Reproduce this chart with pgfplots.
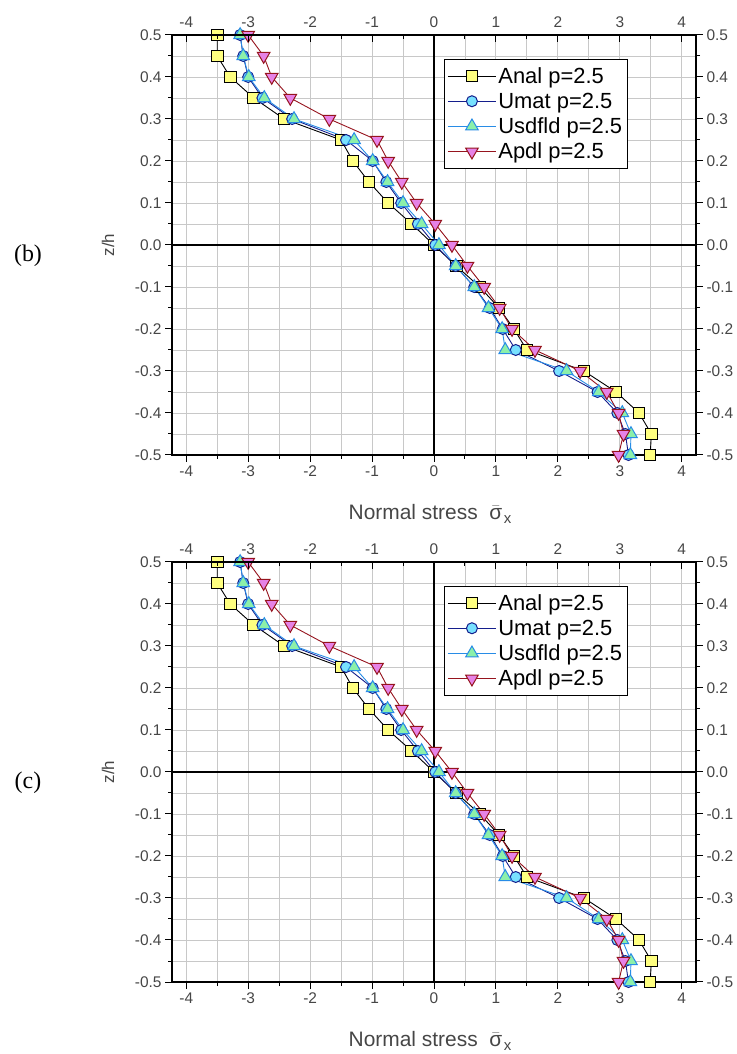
\documentclass[border=0pt]{standalone}
\usepackage{fontspec}
\setmainfont{Liberation Sans}
\newfontfamily\seriffont{Liberation Serif}
\usepackage{pgfplots}
\pgfplotsset{compat=1.18}
\usepackage{pgfplotstable}

\definecolor{analfill}{RGB}{255,255,128}
\definecolor{umatline}{RGB}{20,30,140}
\definecolor{umatfill}{RGB}{120,225,255}
\definecolor{usdline}{RGB}{40,140,230}
\definecolor{usdfill}{RGB}{140,240,170}
\definecolor{apdlline}{RGB}{150,20,30}
\definecolor{apdlfill}{RGB}{230,130,230}
\definecolor{gridgray}{RGB}{200,200,200}
\definecolor{ticklab}{RGB}{70,70,70}

\pgfplotstableread{
z     anal   umat   usd    apdl
0.50  -3.50  -3.13  -3.13  -3.00
0.45  -3.50  -3.08  -3.08  -2.75
0.40  -3.29  -3.00  -2.99  -2.62
0.35  -2.91  -2.77  -2.74  -2.32
0.30  -2.42  -2.29  -2.26  -1.69
0.25  -1.50  -1.42  -1.29  -0.92
0.20  -1.31  -0.99  -0.99  -0.74
0.15  -1.05  -0.77  -0.75  -0.52
0.10  -0.74  -0.53  -0.50  -0.28
0.05  -0.36  -0.26  -0.20   0.02
0.00   0.00   0.02   0.08   0.29
-0.05  0.36   0.35   0.35   0.54
-0.10  0.74   0.65   0.65   0.81
-0.15  1.05   0.90   0.88   1.06
-0.20  1.29   1.11   1.10   1.26
-0.25  1.50   1.32   1.15   1.63
-0.30  2.42   2.02   2.14   2.36
-0.35  2.94   2.64   2.66   2.79
-0.40  3.31   2.96   3.04   2.98
-0.45  3.51   3.09   3.18   3.06
-0.50  3.49   3.14   3.17   2.98
}\datab

\pgfplotsset{
  base/.style={
    width=524bp, height=420bp, scale only axis,
    xmin=-4.23, xmax=4.23, ymin=-0.5, ymax=0.5,
    xtick={-4,-3,-2,-1,0,1,2,3,4},
    xticklabels={-4,-3,-2,-1,0,1,2,3,4},
    ytick={-0.5,-0.4,-0.3,-0.2,-0.1,0,0.1,0.2,0.3,0.4,0.5},
    yticklabels={-0.5,-0.4,-0.3,-0.2,-0.1,0.0,0.1,0.2,0.3,0.4,0.5},
    minor x tick num=1, minor y tick num=1,
    major tick length=7bp, minor tick length=4bp,
    every tick/.style={black, line width=1bp},
    ticklabel style={font=\fontsize{15.5}{16}\selectfont, text=ticklab},
    axis line style={black, line width=1.4bp},
  },
  mainpanel/.style={base,
    grid=both,
    major grid style={gridgray, line width=0.9bp},
    minor grid style={gridgray, line width=0.9bp},
    xtick pos=left, ytick pos=left, tick align=outside,
    legend style={at={(0.519,0.943)}, anchor=north west, draw=black, line width=1.1bp,
      fill=white, font=\fontsize{22}{24}\selectfont, inner xsep=3bp, inner ysep=6bp,
      row sep=4bp},
    legend cell align=left,
    legend image code/.code={\draw[mark repeat=2,mark phase=2,##1] plot coordinates {(0bp,0bp) (24bp,0bp) (48bp,0bp)};},
  },
  toppanel/.style={base, axis x line*=top, axis y line=none, tick align=inside,
    xticklabel style={yshift=4bp}},
  rightpanel/.style={base, axis y line*=right, axis x line=none, tick align=outside},
}

\newcommand{\sigmalabel}{Normal stress\ \ \smash{$\bar{\hbox{σ}}$\kern1.5bp\raisebox{-4bp}{\fontsize{15}{16}\selectfont x}}}

\newcommand{\panel}[1]{%
\begin{axis}[mainpanel, at={(172bp,#1)}, anchor=south west]
\draw[black, line width=1.1bp] (axis cs:0,-0.5) -- (axis cs:0,0.5);
\draw[black, line width=1.1bp] (axis cs:-4.23,0) -- (axis cs:4.23,0);
\addplot[black, line width=0.9bp, mark=square*, mark size=5.8bp,
  mark options={fill=analfill, draw=black, line width=1bp, solid}] table[x=anal,y=z]{\datab};
\addlegendentry{Anal p=2.5}
\addplot[umatline, line width=0.9bp, mark=*, mark size=5.5bp,
  mark options={fill=umatfill, draw=umatline, line width=1bp}] table[x=umat,y=z]{\datab};
\addlegendentry{Umat p=2.5}
\addplot[usdline, line width=0.9bp, mark=triangle*, mark size=7.3bp,
  mark options={fill=usdfill, draw=usdline, line width=1bp}] table[x=usd,y=z]{\datab};
\addlegendentry{Usdfld p=2.5}
\addplot[apdlline, line width=0.9bp, mark=triangle*, mark size=7.3bp,
  mark options={rotate=180, fill=apdlfill, draw=apdlline, line width=1bp}] table[x=apdl,y=z]{\datab};
\addlegendentry{Apdl p=2.5}
\end{axis}
\begin{axis}[toppanel, at={(172bp,#1)}, anchor=south west]
\end{axis}
\begin{axis}[rightpanel, at={(172bp,#1)}, anchor=south west]
\end{axis}
}

\begin{document}
\begin{tikzpicture}
\useasboundingbox (0bp,0bp) rectangle (737bp,1054bp);
% panel (b)
\panel{599bp}
\node[font=\seriffont\fontsize{24}{26}\selectfont] at (28bp,798bp) {(b)};
\node[font=\fontsize{17}{18}\selectfont, text=ticklab, rotate=90] at (108bp,809bp) {z/h};
\node[font=\fontsize{21}{24}\selectfont, text=ticklab] at (430bp,542bp) {\sigmalabel};
% panel (c)
\panel{72bp}
\node[font=\seriffont\fontsize{24}{26}\selectfont] at (28bp,271bp) {(c)};
\node[font=\fontsize{17}{18}\selectfont, text=ticklab, rotate=90] at (108bp,282bp) {z/h};
\node[font=\fontsize{21}{24}\selectfont, text=ticklab] at (430bp,15bp) {\sigmalabel};
\end{tikzpicture}
\end{document}
